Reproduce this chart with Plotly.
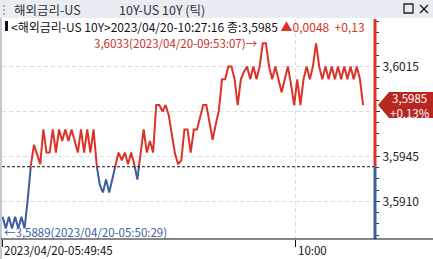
import plotly.graph_objects as go

# ---------------- data ----------------
TITLE_LEFT = "해외금리-US"
TITLE_RIGHT = "10Y-US 10Y (틱)"
INFO_NAME = "<해외금리-US 10Y>"
INFO_TIME = "2023/04/20-10:27:16"
LAST = 3.5985
CHANGE = 0.0048
CHANGE_PCT = 0.13
BASE = 3.5937
MAX_TIME = "2023/04/20-09:53:07"
MIN_TIME = "2023/04/20-05:50:29"
START_LABEL = "2023/04/20-05:49:45"
X_TICK_POS = [93.5]
X_TICK_TEXT = ["10:00"]
Y_TICKS = [3.5910, 3.5945, 3.5980, 3.6015]
Y_TICK_TEXT = ["3,5910", "3,5945", "", "3,6015"]

PRICES = [
    3.5898, 3.5889, 3.5898, 3.5889, 3.5898, 3.5889, 3.5898, 3.5889, 3.5911, 3.5938,
    3.5954, 3.5946, 3.5939, 3.5966, 3.5948, 3.5948, 3.5966, 3.5948, 3.5966, 3.5957,
    3.5966, 3.5957, 3.5966, 3.5957, 3.5948, 3.5966, 3.5948, 3.5966, 3.5948, 3.5966,
    3.5938, 3.5923, 3.5917, 3.5927, 3.5917, 3.5927, 3.5938, 3.5948, 3.5942, 3.5948,
    3.5939, 3.5948, 3.5939, 3.5927, 3.5948, 3.5966, 3.5948, 3.5957, 3.5948, 3.5985,
    3.5985, 3.5980, 3.5985, 3.5977, 3.5962, 3.5947, 3.5939, 3.5942, 3.5966, 3.5966,
    3.5948, 3.5966, 3.5966, 3.5975, 3.5985, 3.5985, 3.5970, 3.5958, 3.5970, 3.5981,
    3.6005, 3.6005, 3.6015, 3.6015, 3.6005, 3.5985, 3.6005, 3.6011, 3.6015, 3.6005,
    3.6015, 3.6005, 3.6015, 3.6033, 3.6033, 3.6015, 3.6005, 3.6015, 3.6005, 3.5995,
    3.6005, 3.6015, 3.6001, 3.5985, 3.6005, 3.5985, 3.6005, 3.6015, 3.6005, 3.6015,
    3.6033, 3.6015, 3.6005, 3.6015, 3.6005, 3.6015, 3.6005, 3.6015, 3.6005, 3.6015,
    3.6005, 3.6015, 3.6005, 3.6015, 3.6005, 3.5985,
]

# ---------------- styles ----------------
W, H = 433, 259
ML, MR, MT, MB = 2, 58, 19, 20
PW, PH = W - ML - MR, H - MT - MB
RED = "#dc3329"
BLUE = "#3d5e9e"
FONT = "Noto Sans CJK KR"
Y_RANGE = [3.58808, 3.60519]
X_RANGE = [-0.2, 118.8]


def px(x):
    return (x - ML) / PW


def py(y):
    return (H - MB - y) / PH


def fmt(v, d=4):
    return (f"%.{d}f" % v).replace(".", ",")


def split(xs, ys, base):
    rx, ry, bx, by = [], [], [], []
    for i, (x, y) in enumerate(zip(xs, ys)):
        if i > 0:
            x0, y0 = xs[i - 1], ys[i - 1]
            if (y0 - base) * (y - base) < 0:
                xc = x0 + (base - y0) / (y - y0) * (x - x0)
                if y0 > base:
                    rx += [xc, None]; ry += [base, None]
                    bx.append(xc); by.append(base)
                else:
                    bx += [xc, None]; by += [base, None]
                    rx.append(xc); ry.append(base)
        if y >= base:
            rx.append(x); ry.append(y)
        else:
            bx.append(x); by.append(y)
    return rx, ry, bx, by


xs = list(range(len(PRICES)))
rx, ry, bx, by = split(xs, PRICES, BASE)

fig = go.Figure()
fig.add_trace(go.Scatter(x=bx, y=by, mode="lines", line=dict(color=BLUE, width=2),
                         hoverinfo="skip", showlegend=False))
fig.add_trace(go.Scatter(x=rx, y=ry, mode="lines", line=dict(color=RED, width=2),
                         hoverinfo="skip", showlegend=False))

shapes = []
# title bar
shapes.append(dict(type="rect", xref="paper", yref="paper", x0=px(0), x1=px(W), y0=py(18), y1=py(0),
                   fillcolor="#e8edf3", line=dict(width=0), layer="below"))
shapes.append(dict(type="line", xref="paper", yref="paper", x0=px(4), x1=px(4), y0=py(15), y1=py(3),
                   line=dict(color="#a8b0bc", width=2, dash="2px,2px")))
# window buttons
shapes.append(dict(type="rect", xref="paper", yref="paper", x0=px(404), x1=px(413), y0=py(13), y1=py(4),
                   line=dict(color="#222", width=1.3)))
shapes.append(dict(type="line", xref="paper", yref="paper", x0=px(420), x1=px(428), y0=py(13), y1=py(5),
                   line=dict(color="#222", width=1.5)))
shapes.append(dict(type="line", xref="paper", yref="paper", x0=px(420), x1=px(428), y0=py(5), y1=py(13),
                   line=dict(color="#222", width=1.5)))
# left border
shapes.append(dict(type="line", xref="paper", yref="paper", x0=px(1), x1=px(1), y0=py(259), y1=py(18),
                   line=dict(color="#aeb6c2", width=1.5)))
# info marker
shapes.append(dict(type="rect", xref="paper", yref="paper", x0=px(5), x1=px(8), y0=py(31), y1=py(21),
                   fillcolor="#111", line=dict(width=0)))
# base line
shapes.append(dict(type="line", xref="paper", yref="y", x0=0, x1=1, y0=BASE, y1=BASE,
                   line=dict(color="#111", width=1, dash="3px,2px")))
# colored y axis line
ybase = (BASE - Y_RANGE[0]) / (Y_RANGE[1] - Y_RANGE[0])
shapes.append(dict(type="line", xref="paper", yref="paper", x0=1, x1=1, y0=ybase, y1=1,
                   line=dict(color=RED, width=3)))
shapes.append(dict(type="line", xref="paper", yref="paper", x0=1, x1=1, y0=0, y1=ybase,
                   line=dict(color=BLUE, width=3)))
# bottom axis line
shapes.append(dict(type="line", xref="paper", yref="paper", x0=px(1), x1=px(W), y0=0, y1=0,
                   line=dict(color="#111", width=1)))
# current value tag
yl = (LAST - Y_RANGE[0]) / (Y_RANGE[1] - Y_RANGE[0])
yl_px = H - MB - yl * PH
tag = "M {a},{m} L {b},{t} L {c},{t} L {c},{bt} L {b},{bt} Z".format(
    a=px(378), b=px(389), c=px(W), m=py(yl_px), t=py(yl_px - 13), bt=py(yl_px + 13))
shapes.append(dict(type="path", xref="paper", yref="paper", path=tag,
                   fillcolor="#b8271f", line=dict(width=0)))

annotations = []


def ann(text, x, y, color="#222", size=12, xanchor="left", yanchor="middle", xref="paper", yref="paper", **kw):
    annotations.append(dict(text=text, x=x, y=y, showarrow=False, xanchor=xanchor, yanchor=yanchor,
                            xref=xref, yref=yref, font=dict(family=FONT, size=size, color=color), **kw))


ann(TITLE_LEFT, px(12), py(9), size=12.5, color="#333")
ann(TITLE_RIGHT, px(117), py(9), size=12.5, color="#333")

info = (f"{INFO_NAME}{INFO_TIME} 종:{fmt(LAST)} "
        f"<span style='color:{RED}'>▲{fmt(CHANGE)}  +{fmt(CHANGE_PCT, 2)}</span>")
ann(info, px(9), py(26.5), size=12, color="#111")

# max / min labels
imax = PRICES.index(max(PRICES))
imin = PRICES.index(min(PRICES))
ann(f"{fmt(max(PRICES))}({MAX_TIME})→", imax, max(PRICES), xref="x", yref="y", xanchor="right",
    xshift=-3, size=11.5, color="#c0302a")
ann(f"←{fmt(min(PRICES))}({MIN_TIME})", imin, min(PRICES), xref="x", yref="y", xanchor="left",
    xshift=-4, yshift=-4, size=11.5, color=BLUE)
# tag text
ann(f"{fmt(LAST)}<br>+{fmt(CHANGE_PCT, 2)}%", px(410), LAST, yref="y", xanchor="center",
    size=11.5, color="white")
# x labels
ann(START_LABEL, px(2), py(250), size=11.5, color="#111")
for pos, txt in zip(X_TICK_POS, X_TICK_TEXT):
    ann(txt, pos, py(250), xref="x", size=11.5, color="#111")

fig.update_layout(
    width=W, height=H, margin=dict(l=ML, r=MR, t=MT, b=MB),
    paper_bgcolor="white", plot_bgcolor="white", separators=",.",
    shapes=shapes, annotations=annotations,
    xaxis=dict(range=X_RANGE, showline=False, zeroline=False, showticklabels=False,
               tickmode="array", tickvals=[0] + X_TICK_POS, ticks="outside", ticklen=7, tickcolor="#111",
               showgrid=True, gridcolor="#dcdcdc", griddash="4px,3px", gridwidth=1),
    yaxis=dict(range=Y_RANGE, side="right", showline=False, zeroline=False,
               tickmode="array", tickvals=Y_TICKS, ticktext=Y_TICK_TEXT, ticks="outside", ticklen=4,
               tickcolor="#333", tickfont=dict(family=FONT, size=12, color="#222"),
               showgrid=True, gridcolor="#dcdcdc", griddash="4px,3px", gridwidth=1,
               minor=dict(tickmode="linear", tick0=3.5910, dtick=0.000875, ticks="outside", ticklen=3,
                          tickcolor="#333", showgrid=False)),
    hovermode=False,
)

fig.write_html("out.html")
